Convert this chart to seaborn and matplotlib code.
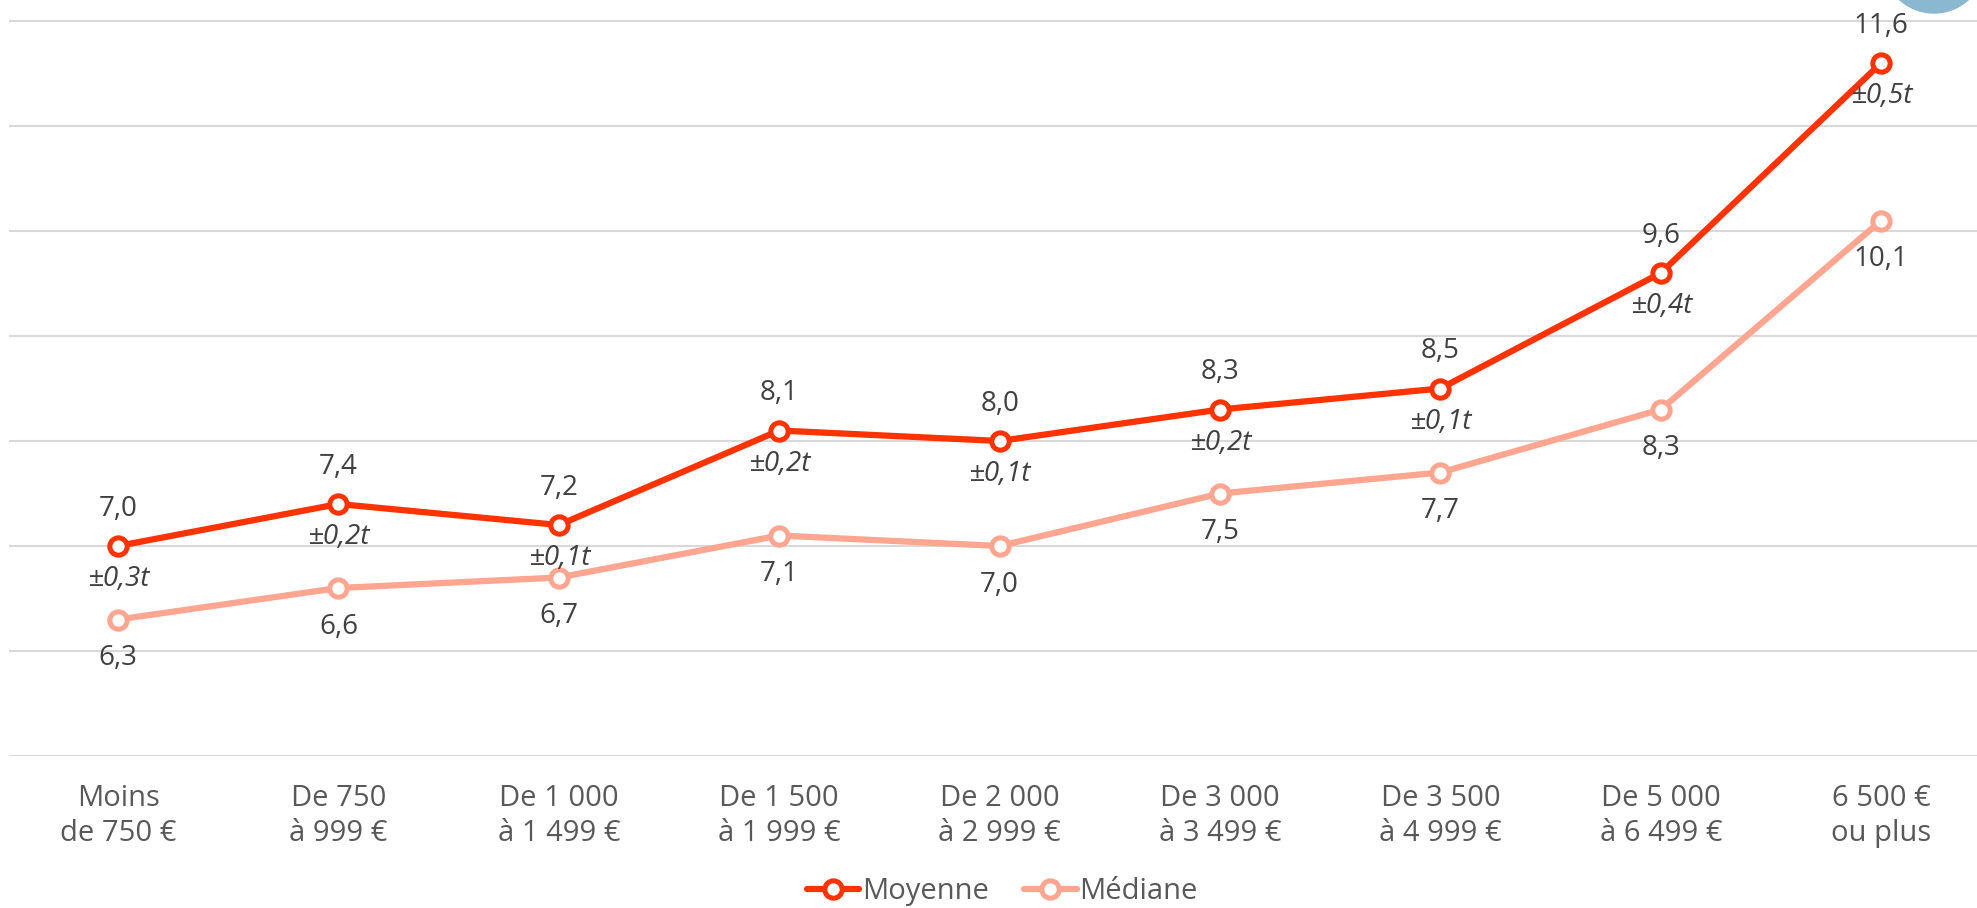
import numpy as np
import pandas as pd
import matplotlib
matplotlib.use("Agg")
import matplotlib.pyplot as plt
from matplotlib.patches import Circle
import seaborn as sns

# tranches de revenus
categories = ["Moins\nde 750 €", "De 750\nà 999 €", "De 1 000\nà 1 499 €", "De 1 500\nà 1 999 €",
              "De 2 000\nà 2 999 €", "De 3 000\nà 3 499 €", "De 3 500\nà 4 999 €",
              "De 5 000\nà 6 499 €", "6 500 €\nou plus"]
moyenne = [7.0, 7.4, 7.2, 8.1, 8.0, 8.3, 8.5, 9.6, 11.6]
mediane = [6.3, 6.6, 6.7, 7.1, 7.0, 7.5, 7.7, 8.3, 10.1]
marges = ["±0,3t", "±0,2t", "±0,1t", "±0,2t", "±0,1t", "±0,2t", "±0,1t", "±0,4t", "±0,5t"]

c_moy = "#ff3300"
c_med = "#ffa590"
txt = "#404040"

sns.set_style("white")
plt.rcParams["font.family"] = ["Open Sans", "DejaVu Sans"]

df = pd.DataFrame({
    "x": list(range(len(categories))) * 2,
    "val": moyenne + mediane,
    "serie": ["Moyenne"] * len(moyenne) + ["Médiane"] * len(mediane),
})

fig = plt.figure(figsize=(19.77, 9.08), dpi=100)
ax = fig.add_axes([0.0046, 0.1674, 0.9954, 0.8326])

sns.lineplot(data=df, x="x", y="val", hue="serie", palette={"Moyenne": c_moy, "Médiane": c_med},
             marker="o", markersize=12.5, markerfacecolor="white", markeredgewidth=3.6,
             linewidth=4.5, ax=ax, legend=False)
# marker edge colours follow the line
for line, col in zip(ax.lines, [c_moy, c_med]):
    line.set_markeredgecolor(col)

ax.set_xlim(-0.4945, 8.435)
ax.set_ylim(5, 12.2)
ax.set_yticks(np.arange(5, 13, 1))
ax.yaxis.grid(True, color="#d9d9d9", linewidth=1.5)
ax.set_yticklabels([])
ax.tick_params(axis="y", length=0)
ax.set_xticks(range(len(categories)))
ax.set_xticklabels(categories, fontsize=21, color="#595959", linespacing=1.3)
ax.tick_params(axis="x", length=0, pad=20)
ax.set_xlabel("")
ax.set_ylabel("")
for s in ax.spines.values():
    s.set_visible(False)

fmt = lambda v: f"{v:.1f}".replace(".", ",")
for i, (m, d, e) in enumerate(zip(moyenne, mediane, marges)):
    ax.annotate(fmt(m), (i, m), xytext=(0, 27), textcoords="offset points",
                ha="center", va="center", fontsize=20, color=txt)
    ax.annotate(e, (i, m), xytext=(0, -24), textcoords="offset points",
                ha="center", va="center", fontsize=20, color=txt, style="italic")
    ax.annotate(fmt(d), (i, d), xytext=(0, -28), textcoords="offset points",
                ha="center", va="center", fontsize=20, color=txt)

handles = [plt.Line2D([], [], color=c, linewidth=4.5, marker="o", markersize=12.5,
                      markerfacecolor="white", markeredgecolor=c, markeredgewidth=3.6)
           for c in (c_moy, c_med)]
fig.legend(handles, ["Moyenne", "Médiane"], loc="center", bbox_to_anchor=(0.507, 0.018),
           ncol=2, frameon=False, fontsize=21, handlelength=1.8, handletextpad=0.1,
           columnspacing=1.2, labelcolor="#595959")

# pastille décorative en haut à droite
fig.patches.append(Circle((1934, 946), 51, transform=None, color="#8ab8d0", zorder=5))

fig.savefig("out.png", dpi=100)
